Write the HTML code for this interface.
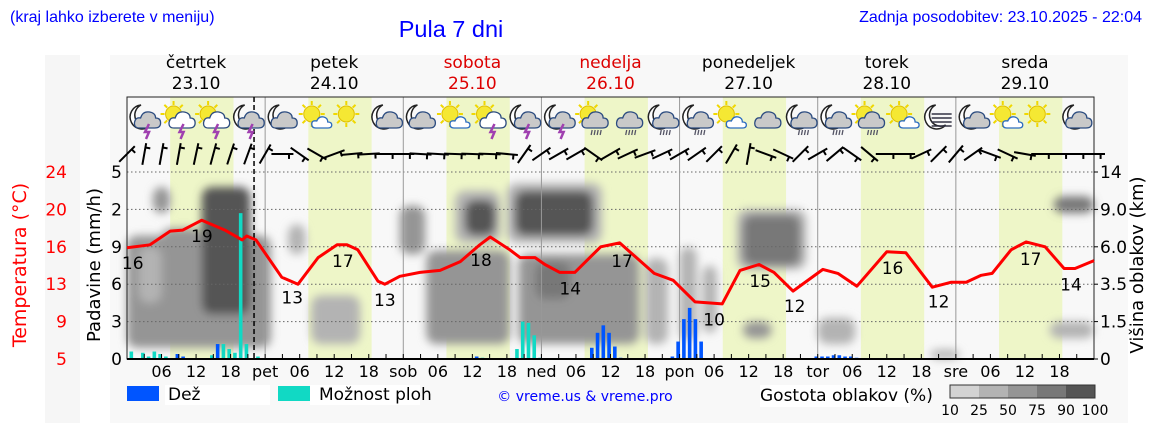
<!DOCTYPE html>
<html><head><meta charset="utf-8">
<style>
html,body{margin:0;padding:0;background:#fff;}
body{width:1152px;height:443px;overflow:hidden;}
svg text{font-family:"DejaVu Sans","Liberation Sans",sans-serif;}
.hdr{font-family:"Liberation Sans",sans-serif;}
</style></head>
<body>
<svg id="chart" width="1152" height="443" viewBox="0 0 1152 443" xmlns="http://www.w3.org/2000/svg">
<defs>
<filter id="blur" x="-30%" y="-30%" width="160%" height="160%"><feGaussianBlur stdDeviation="4.5"/></filter>
</defs>
<rect x="45" y="55" width="35" height="368" fill="#f6f6f6"/>
<rect x="110" y="55" width="1018" height="368" fill="#f8f8f8"/>
<text class="hdr" x="10" y="22" font-size="16" fill="#0000ff">(kraj lahko izberete v meniju)</text>
<text class="hdr" x="451" y="37" font-size="23.5" fill="#0000ff" text-anchor="middle">Pula 7 dni</text>
<text class="hdr" x="1142" y="22" font-size="16" fill="#0000ff" text-anchor="end">Zadnja posodobitev: 23.10.2025 - 22:04</text>
<g id="plot"></g>
<g id="days"></g>
<text x="26" y="265" font-size="19" fill="#ff0000" text-anchor="middle" transform="rotate(-90 26 265)">Temperatura (°C)</text>
<text x="100" y="265" font-size="18" fill="#000" text-anchor="middle" transform="rotate(-90 100 265)">Padavine (mm/h)</text>
<text x="1143" y="265" font-size="18" fill="#000" text-anchor="middle" transform="rotate(-90 1143 265)">Višina oblakov (km)</text>
<g>
<rect x="165" y="385" width="105" height="20" fill="#fff"/>
<rect x="127" y="386" width="32" height="15" fill="#0055ff"/>
<text x="168" y="400" font-size="17" font-family="Liberation Sans">Dež</text>
<rect x="310" y="385" width="110" height="20" fill="#fff"/>
<rect x="278" y="386" width="32" height="15" fill="#11d9c4"/>
<text x="319" y="400" font-size="17" font-family="Liberation Sans">Možnost ploh</text>
<text x="585" y="401" font-size="14" fill="#0000ff" text-anchor="middle" font-family="Liberation Sans">© vreme.us &amp; vreme.pro</text>
<rect x="760" y="385" width="150" height="22" fill="#fff"/>
<text x="760" y="401" font-size="17" font-family="Liberation Sans">Gostota oblakov (%)</text>
<rect x="950" y="385" width="29" height="13" fill="#d3d3d3"/>
<rect x="979" y="385" width="29" height="13" fill="#b3b3b3"/>
<rect x="1008" y="385" width="29" height="13" fill="#959595"/>
<rect x="1037" y="385" width="29" height="13" fill="#787878"/>
<rect x="1066" y="385" width="29" height="13" fill="#555555"/>
<rect x="950" y="385" width="145" height="13" fill="none" stroke="#333"/>
<text x="950" y="415" font-size="14" text-anchor="middle">10</text>
<text x="979" y="415" font-size="14" text-anchor="middle">25</text>
<text x="1008" y="415" font-size="14" text-anchor="middle">50</text>
<text x="1037" y="415" font-size="14" text-anchor="middle">75</text>
<text x="1066" y="415" font-size="14" text-anchor="middle">90</text>
<text x="1095" y="415" font-size="14" text-anchor="middle">100</text>
</g>
</svg>
<script>
const dayNames=["četrtek","petek","sobota","nedelja","ponedeljek","torek","sreda"];
const dayDates=["23.10","24.10","25.10","26.10","27.10","28.10","29.10"];
const dayWeekend=[false,false,true,true,false,false,false];
const dayAbbr=["","pet","sob","ned","pon","tor","sre"];
const tempTicks=[5,9,13,16,20,24];
const precipTicks=["0","3","6","9","2","5"];
const cloudTicks=["0","1.5","3.5","6.0","9.0","14"];
const tempHours=[0,4,7.5,9.7,13,17,20,20.8,22.4,26.9,29.7,33.2,36.5,38.2,40.1,43.6,44.8,47.4,50.9,54.4,57.9,61.3,63.1,66.5,68.3,70.9,72.6,75.2,77.8,82.3,85.6,91.6,94.9,98.7,103.4,106.5,109.8,112.4,115.7,120.9,123.5,126.8,132,135.3,139.9,143.2,145.8,148.4,150.3,153.6,156.2,159.5,162.8,164.7,168];
const tempValues=[16.3,16.6,18.0,18.1,19.1,18.1,17.1,17.5,17.1,13.3,12.6,15.3,16.6,16.6,16.1,12.9,12.6,13.4,13.8,14.0,14.9,16.6,17.4,16.1,15.3,15.3,14.6,13.8,13.8,16.4,16.8,13.7,13.0,10.8,10.6,14.0,14.6,13.8,11.9,14.1,13.7,12.4,15.9,15.8,12.3,12.8,12.8,13.5,13.7,16.1,16.9,16.4,14.2,14.2,15.0];
const tempLabelHours=[1,13,28.7,37.5,44.8,61.5,77,86,102,110,116,133,141,157,164];
const tempLabelTexts=["16","19","13","17","13","18","14","17","10","15","12","16","12","17","14"];
const showerHours=[0,2,3,4,5,6,14,16,17,18,19,20,22,61,67,68,69,70,71];
const showerValues=[0.06,0.05,0.02,0.06,0.04,0.02,0.03,0.12,0.08,0.05,1.17,0.12,0.02,0.01,0.08,0.30,0.29,0.19,0.01];
const rainHours=[8,9,15,60,80,81,82,83,84,85,94,95,96,97,98,99,119,120,121,122,123,124,125,126];
const rainValues=[0.04,0.02,0.12,0.02,0.09,0.21,0.27,0.21,0.10,0.01,0.02,0.14,0.32,0.41,0.32,0.14,0.02,0.02,0.02,0.03,0.03,0.02,0.02,0.01];
// cloud blobs: start hour, end hour, low level, high level, density %
const cloudStart=[0,2,6,13,4.5,28,32,47.4,52,57,58.7,66,67.4,68,71,90,96,100,106,107,107,120,139.5,160.3,161];
const cloudEnd=[25,6,13,21.4,7.5,31,40.5,51.8,66.5,64.8,64,82.5,81,89,77,94,99,102.5,118,117,112,126.5,144.7,168,168];
const cloudLow=[0.3,1.5,0.8,1.2,3.9,2.8,0.4,2.8,0.4,3.1,3.3,3.1,3.3,0.4,1.6,0.4,0.5,0.7,2.4,2.5,0.55,0.4,0,0.55,3.9];
const cloudHigh=[3.3,3.0,3.5,4.6,4.6,3.6,1.7,4.1,2.9,4.5,4.25,4.7,4.5,2.8,2.6,2.7,3.0,2.5,4.0,3.85,1.0,1.1,0.25,1.0,4.35];
const cloudDensity=[50,40,65,90,55,30,35,55,50,40,90,40,90,50,75,35,35,35,35,85,50,35,30,30,75];
const iconTypes=["mt","st","st","mt","mc","sc","s","mcs","mc","sc","st","mt","mt","scr","cr","mr","mr","sc","c","mr","mr","scr","sc","mf","mcs","sc","s","mc"];
const windAngles=[45,80,80,80,78,75,72,70,60,0,-35,-30,20,5,3,0,0,-3,-3,-2,-2,-2,-5,55,35,30,30,-35,30,25,20,25,30,35,45,60,80,-20,-25,45,30,40,-35,-40,0,0,25,45,50,35,-20,-25,-10,0,0,0,0];

const NS="http://www.w3.org/2000/svg";
const X0=127,X1=1094,Y0=359,STEP=37.4;
const xH=h=>X0+h*(X1-X0)/168;
const yT=t=>Y0-(t-5)*(187/19);
const yP=mm=>Y0-mm/0.3*STEP;
const yL=l=>Y0-l*STEP;
const plot=document.getElementById('plot');
const days=document.getElementById('days');
function mk(tag,attrs,parent){const e=document.createElementNS(NS,tag);for(const k in attrs)e.setAttribute(k,attrs[k]);(parent||plot).appendChild(e);return e;}
function dens(d){return d>=90?'#555555':d>=75?'#787878':d>=50?'#959595':d>=25?'#b3b3b3':'#d3d3d3';}

for(let d=0;d<7;d++){
  const r=mk('rect',{x:xH(d*24+7.5),y:97,width:xH(18.5)-xH(7.5),height:262,fill:'#eef6c8'});
  
  
}
const cg=mk('g',{filter:'url(#blur)'});


for(let i=0;i<cloudStart.length;i++){
  const r=mk('rect',{x:xH(cloudStart[i]),y:yL(cloudHigh[i]),width:xH(cloudEnd[i])-xH(cloudStart[i]),height:yL(cloudLow[i])-yL(cloudHigh[i]),rx:10,fill:dens(cloudDensity[i])},cg);
  
  
}
for(let i=1;i<=5;i++){
  const l=mk('line',{x1:X0,x2:X1,y1:yL(i),y2:yL(i),stroke:'#666','stroke-dasharray':'1.5,2.5','stroke-width':1});
  
  
}
for(let d=1;d<7;d++){
  const l=mk('line',{x1:xH(d*24),x2:xH(d*24),y1:97,y2:Y0,stroke:'#999','stroke-width':1});
  
  
}
const fr=mk('rect',{x:X0,y:97,width:X1-X0,height:Y0-97,fill:'none',stroke:'#222','stroke-width':1});


const nl=mk('line',{x1:xH(22.07),x2:xH(22.07),y1:97,y2:Y0,stroke:'#000','stroke-dasharray':'5,3','stroke-width':1.5});


for(let i=0;i<showerHours.length;i++){
  const cx=xH(showerHours[i]+0.75);
  const b=mk('rect',{x:cx-1.8,y:yP(showerValues[i]),width:3.6,height:Y0-yP(showerValues[i]),fill:'#11d9c4'});
  
  
}
for(let i=0;i<rainHours.length;i++){
  const cx=xH(rainHours[i]+0.75);
  const b=mk('rect',{x:cx-1.8,y:yP(rainValues[i]),width:3.6,height:Y0-yP(rainValues[i]),fill:'#0055ff'});
  
  
}
let dpath='';
for(let i=0;i<tempHours.length;i++){dpath+=(i?'L':'M')+xH(tempHours[i]).toFixed(1)+','+yT(tempValues[i]).toFixed(1);}
const tl=mk('path',{d:dpath,fill:'none',stroke:'#ff0000','stroke-width':3,'stroke-linejoin':'round'});


function interpT(h){for(let i=1;i<tempHours.length;i++){if(h<=tempHours[i]){const f=(h-tempHours[i-1])/(tempHours[i]-tempHours[i-1]);return tempValues[i-1]+f*(tempValues[i]-tempValues[i-1]);}}return tempValues[tempValues.length-1];}
for(let i=0;i<tempLabelHours.length;i++){
  const t=mk('text',{x:xH(tempLabelHours[i]),y:yT(interpT(tempLabelHours[i]))+22,'font-size':17,'text-anchor':'middle',fill:'#000'});
  t.textContent=tempLabelTexts[i];
  
  
}
const ax=mk('line',{x1:X0,x2:X1,y1:Y0,y2:Y0,stroke:'#000','stroke-width':2});


for(let h=3;h<168;h+=3){
  const tk=mk('line',{x1:xH(h),x2:xH(h),y1:Y0,y2:Y0-5,stroke:'#000','stroke-width':1});
  
  
}
for(let h=0;h<168;h+=6){
  const d=Math.floor(h/24),hh=h%24;
  const lbl=hh===0?dayAbbr[d]:(hh<10?'0':'')+hh;
  if(!lbl)continue;
  const t=mk('text',{x:xH(h),y:377,'font-size':16,'text-anchor':'middle',fill:'#000'});
  t.textContent=lbl;
  
  
}
for(let i=0;i<6;i++){
  const t=mk('text',{x:67,y:yL(i)+6,'font-size':17,'text-anchor':'end',fill:'#ff0000'});
  t.textContent=tempTicks[i];
  
  
  const p=mk('text',{x:122,y:yL(i)+6,'font-size':17,'text-anchor':'end',fill:'#000'});
  p.textContent=precipTicks[i];
  
  
  const c=mk('text',{x:1100,y:yL(i)+6,'font-size':17,'text-anchor':'start',fill:'#000'});
  c.textContent=cloudTicks[i];
  
  
  const rt=mk('line',{x1:X1,x2:X1+4,y1:yL(i),y2:yL(i),stroke:'#000'});
  
  
}
for(let d=0;d<7;d++){
  const col=dayWeekend[d]?'#dd0000':'#000';
  const n=mk('text',{x:xH(d*24+12),y:68,'font-size':17,'text-anchor':'middle',fill:col},days);
  n.textContent=dayNames[d];
  
  
  const dt=mk('text',{x:xH(d*24+12),y:89,'font-size':17,'text-anchor':'middle',fill:col},days);
  dt.textContent=dayDates[d];
  
  
}
for(let i=0;i<windAngles.length;i++){
  const cx=xH(i*3),cy=154,L=11,a=windAngles[i]*Math.PI/180;
  const dx=Math.cos(a)*L,dy=-Math.sin(a)*L;
  const g=mk('g',{stroke:'#000','stroke-width':2,fill:'none'});
  
  
  mk('line',{x1:cx-dx,y1:cy-dy,x2:cx+dx,y2:cy+dy},g);
  mk('line',{x1:cx+dx*0.6,y1:cy+dy*0.6,x2:cx+dx*0.6-dy*0.45,y2:cy+dy*0.6+dx*0.45},g);
}
function icon(type,cx,cy){
  const g=mk('g',{});
  
  
  const hasMoon=type[0]==='m', hasSun=type[0]==='s';
  if(hasMoon){
    mk('path',{d:`M${cx-2},${cy-13} A12,12 0 1,0 ${cx+8},${cy+7} A10,10 0 0,1 ${cx-2},${cy-13}Z`,fill:'#fff',stroke:'#222','stroke-width':1.5},g);
  }
  if(hasSun){
    const sx=cx-4,sy=cy-4;
    for(let k=0;k<8;k++){const a=k*Math.PI/4;mk('line',{x1:sx+Math.cos(a)*9,y1:sy+Math.sin(a)*9,x2:sx+Math.cos(a)*13,y2:sy+Math.sin(a)*13,stroke:'#f0d800','stroke-width':2},g);}
    mk('circle',{cx:sx,cy:sy,r:8,fill:'#f5e833',stroke:'#e0c000'},g);
  }
  const big = type==='c'||type==='scr'||type==='cr'||type==='mc';
  if(type!=='s'){
    if(type==='mf'){
      for(let k=0;k<4;k++)mk('line',{x1:cx-6,x2:cx+14,y1:cy+k*4-4,y2:cy+k*4-4,stroke:'#334',"stroke-width":1.5},g);
    } else if(big||type==='mt'||type==='st'||type==='mr'||type==='mcs'){
      const s=big?1:0.8;
      mk('path',{d:`M${cx-8*s+3},${cy+10} q-6,0 -5,-6 q1,-5 6,-4 q2,-7 9,-6 q6,1 6,6 q5,0 5,5 q0,5 -6,5 z`,fill:type==='st'?'#fff':'#c9c9c9',stroke:'#2c4c80','stroke-width':1.3},g);
    } else {
      mk('path',{d:`M${cx},${cy+10} q-4,0 -4,-4 q0,-4 5,-3 q2,-5 7,-4 q4,1 4,5 q4,0 4,3 q0,3 -4,3 z`,fill:'#fff',stroke:'#2c6cc0','stroke-width':1.3},g);
    }
  }
  if(type==='mt'||type==='st'){
    mk('path',{d:`M${cx+6},${cy+6} l-4,8 l4,0 l-3,7`,fill:'none',stroke:'#a040b0','stroke-width':2.5},g);
  }
  if(type==='scr'||type==='cr'||type==='mr'){
    for(let k=0;k<4;k++)mk('line',{x1:cx+k*3,y1:cy+12,x2:cx+k*3-1,y2:cy+17,stroke:'#556','stroke-width':1.3},g);
  }
}
for(let k=0;k<iconTypes.length;k++)icon(iconTypes[k],143+34.55*k,118);
</script>
</body></html>
